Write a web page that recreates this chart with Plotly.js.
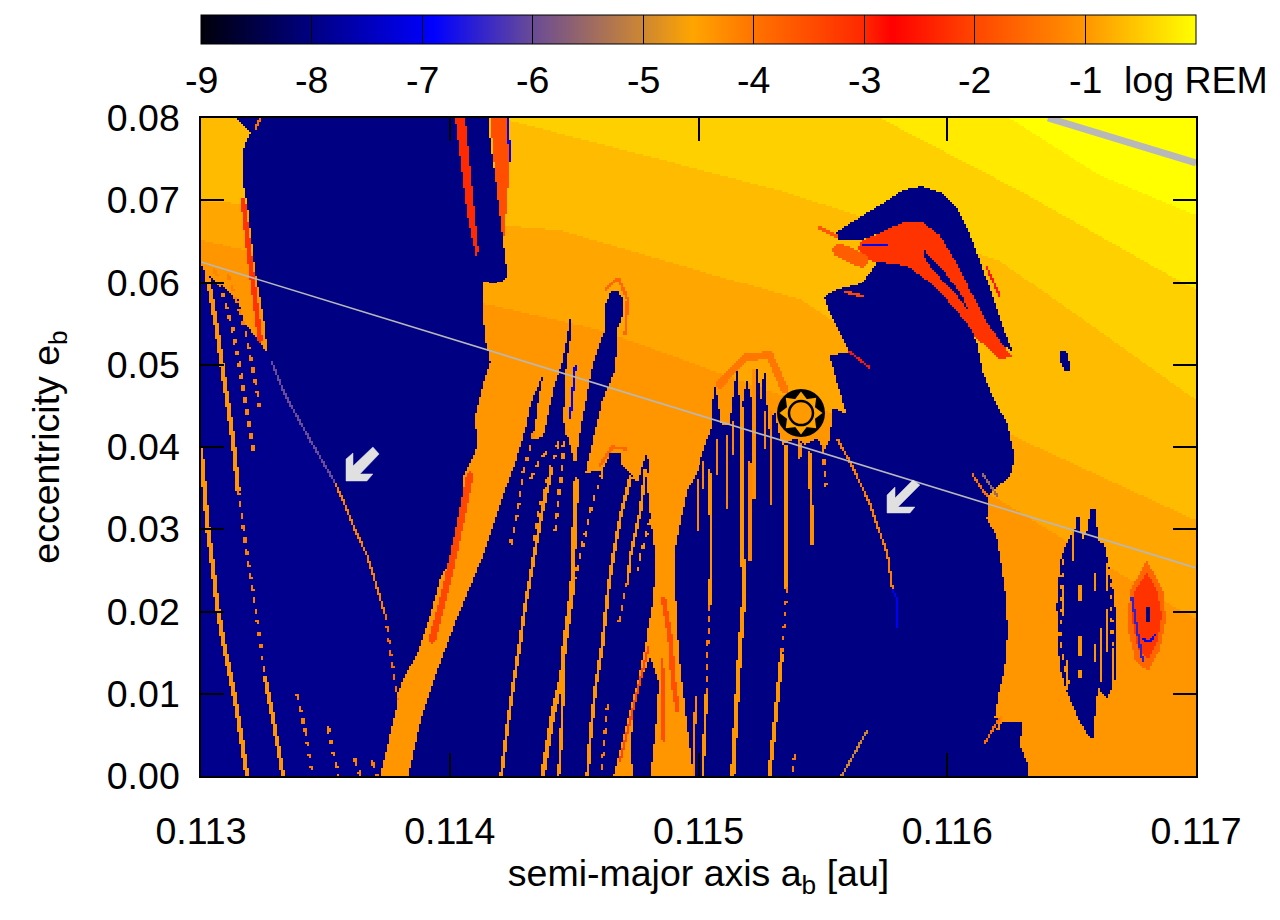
<!DOCTYPE html>
<html><head><meta charset="utf-8">
<script src="https://cdn.plot.ly/plotly-3.0.1.min.js"></script>
<style>html,body{margin:0;padding:0;background:#fff}#chart{width:1280px;height:920px}</style>
</head><body><div id="chart"></div>
<script>
// All outlines: a in 10^-3 au, e in 10^-2.
const colorbarLabels = ["-9","-8","-7","-6","-5","-4","-3","-2","-1","log REM"];
const colorbarValues = [-9,-8,-7,-6,-5,-4,-3,-2,-1,0];
const xTicks = [0.113,0.114,0.115,0.116,0.117];
const yTicks = [0,0.01,0.02,0.03,0.04,0.05,0.06,0.07,0.08];

const logRemBackground = -1;
const zoneLevels = [-0.85,-0.65,-0.45,-0.2,0];
const zones = [
 [[113,6.52],[114.6,5.42],[115.61,4.33],[116.21,3.36],[117,1.9],[117,8],[113,8]],
 [[113,7.0],[114.44,6.64],[115.41,5.79],[116.21,4.21],[117,3.11],[117,8],[113,8]],
 [[114.2,8],[115.33,7.12],[116.21,6.27],[117,4.57],[117,8]],
 [[115.73,8],[116.29,7.12],[117,5.91],[117,8]],
 [[116.25,8],[116.61,7.31],[117,6.82],[117,8]]
];

const leftRegular = [[113.137,8],[114.154,8],[114.162,7.7],[114.182,7.283],[114.202,6.881],[114.214,6.48],[114.23,6.116],[114.222,6.03],[114.182,5.994],[114.134,6.006],[114.13,5.666],[114.142,5.301],[114.162,5.021],[114.13,4.729],[114.101,4.365],[114.11,4.0],[114.053,3.635],[114.049,3.319],[114.001,2.626],[113.961,2.407],[113.913,1.872],[113.872,1.508],[113.808,1.143],[113.788,0.985],[113.768,0.657],[113.748,0.413],[113.72,0],[113,0],[113,6.213],[113.056,6.03],[113.149,5.787],[113.189,5.301],[113.229,5.179],[113.265,5.143],[113.257,5.459],[113.217,6.152],[113.189,6.881],[113.165,7.283],[113.169,7.611],[113.197,7.818]];
const leftBrighter = [[113,6.213],[113.257,5.179],[113.338,4.632],[113.539,3.562],[113.671,2.626],[113.76,1.532],[113.792,0.924],[113.72,0],[113,0]];
const middleRegular = [[113.832,0],[113.888,0.742],[113.953,1.313],[114.049,2.079],[114.13,2.663],[114.21,3.392],[114.262,3.805],[114.302,4.207],[114.323,4.511],[114.375,4.9],[114.355,4.571],[114.335,4.085],[114.375,4.122],[114.415,4.693],[114.451,5.021],[114.475,5.422],[114.483,5.581],[114.487,5.362],[114.467,5.021],[114.455,4.328],[114.503,3.781],[114.524,4.207],[114.556,4.729],[114.576,5.021],[114.622,5.422],[114.624,5.726],[114.644,5.872],[114.672,5.909],[114.696,5.787],[114.692,5.581],[114.672,5.422],[114.664,4.936],[114.612,4.571],[114.584,4.207],[114.552,3.805],[114.544,3.684],[114.612,3.72],[114.644,3.927],[114.684,3.927],[114.688,3.781],[114.725,3.684],[114.753,3.562],[114.785,3.903],[114.797,3.842],[114.793,3.514],[114.805,3.149],[114.825,2.687],[114.817,2.164],[114.793,1.751],[114.785,1.593],[114.753,1.143],[114.704,0.584],[114.656,0]];
const archRegular = [[114.805,1.435],[114.837,1.143],[114.833,0.778],[114.805,0],[114.737,0],[114.725,0.292],[114.737,0.778],[114.773,1.228]];
const rightRegular = [[114.978,0],[114.946,0.778],[114.918,1.508],[114.905,2.286],[114.905,2.784],[114.934,3.198],[114.954,3.477],[114.994,3.684],[115.018,3.927],[115.054,4.243],[115.058,4.535],[115.07,4.754],[115.094,4.267],[115.127,4.267],[115.155,4.973],[115.171,4.389],[115.195,4.815],[115.215,4.571],[115.227,4.511],[115.239,5.021],[115.251,4.511],[115.267,4.997],[115.283,4.207],[115.307,4.45],[115.336,4.024],[115.396,4.109],[115.428,4.024],[115.476,4.109],[115.508,3.964],[115.529,4.085],[115.541,4.474],[115.597,4.401],[115.561,4.754],[115.529,5.106],[115.609,5.155],[115.577,5.337],[115.529,5.629],[115.508,5.824],[115.557,5.909],[115.661,5.994],[115.718,6.249],[115.782,6.237],[115.85,6.188],[115.919,6.03],[115.999,5.787],[116.079,5.508],[116.099,5.422],[116.12,5.264],[116.144,4.9],[116.184,4.608],[116.24,4.292],[116.264,4.0],[116.272,3.878],[116.252,3.635],[116.2,3.514],[116.164,3.392],[116.164,3.27],[116.16,3.137],[116.2,2.906],[116.212,2.687],[116.232,2.286],[116.244,1.751],[116.232,1.313],[116.204,0.948],[116.192,0.705],[116.232,0.657],[116.304,0.644],[116.292,0.377],[116.325,0.134],[116.325,0]];
const upperArch = [[115.549,6.602],[115.649,6.796],[115.73,6.942],[115.822,7.125],[115.902,7.173],[115.983,7.088],[116.039,6.918],[116.091,6.602],[116.16,6.03],[116.224,5.459],[116.264,5.155],[116.224,5.24],[116.16,5.508],[116.091,5.909],[116.039,6.237],[115.971,6.577],[115.902,6.736],[115.822,6.736],[115.73,6.602],[115.649,6.517],[115.569,6.517]];
const archChaotic = [[115.657,6.517],[115.73,6.602],[115.822,6.736],[115.902,6.736],[115.971,6.577],[116.039,6.237],[116.091,5.909],[116.16,5.508],[116.224,5.24],[116.26,5.094],[116.212,5.058],[116.152,5.24],[116.12,5.301],[116.079,5.508],[115.999,5.787],[115.919,6.03],[115.85,6.188],[115.782,6.237],[115.718,6.249],[115.669,6.298],[115.641,6.419]];
const archInnerSliver = [[115.91,6.395],[115.991,6.128],[116.063,5.824],[116.083,5.666],[116.031,5.872],[115.951,6.128],[115.91,6.298]];
const smallIsland = [[116.457,5.155],[116.477,5.179],[116.489,5.058],[116.497,4.924],[116.473,4.912],[116.453,5.058]];
const resonantIsland = [[116.526,3.234],[116.542,2.869],[116.566,2.991],[116.574,3.258],[116.598,3.234],[116.606,2.869],[116.634,2.808],[116.666,2.286],[116.682,1.872],[116.682,1.471],[116.674,1.143],[116.642,0.948],[116.606,1.07],[116.586,0.462],[116.574,0.462],[116.534,0.657],[116.481,1.021],[116.453,1.313],[116.445,1.678],[116.441,2.079],[116.453,2.565],[116.461,2.687],[116.485,2.869],[116.513,2.991]];
const redIslandHalo = [[116.803,2.626],[116.867,2.261],[116.879,1.897],[116.855,1.532],[116.807,1.264],[116.755,1.41],[116.723,1.836],[116.735,2.261]];
const redIsland = [[116.803,2.48],[116.843,2.261],[116.863,1.957],[116.847,1.653],[116.807,1.41],[116.767,1.532],[116.743,1.897],[116.755,2.261]];
const redIslandCore = [[116.799,2.055],[116.815,2.055],[116.815,1.86],[116.799,1.86]];
const thinChaoticWedge = [[114.021,8],[114.061,8],[114.114,6.395],[114.106,6.31],[114.073,6.76]];
const redTopWedge = [[114.162,8],[114.182,7.283],[114.214,6.48],[114.23,7.003],[114.242,7.611],[114.234,8]];

const regular = -8, brighter = -7.9;
const regionList = [leftRegular,leftBrighter,middleRegular,archRegular,rightRegular,upperArch,archChaotic,archInnerSliver,smallIsland,resonantIsland,redIslandHalo,redIsland,redIslandCore,thinChaoticWedge,redTopWedge];
const regionLevels = [regular,brighter,regular,regular,regular,regular,-2.2,regular,regular,regular,-1.6,-2.2,regular,-2.3,-1.9];

// Resonance streaks: points, logREM, width in 10^-3 au, dotted flag
const streakLines = [
 [[113,3.964],[113.016,3.416],[113.028,2.991],[113.044,2.626],[113.068,2.018],[113.088,1.653],[113.109,1.35],[113.137,0.924],[113.157,0.559],[113.169,0.316],[113.185,0]],
 [[113.016,6.249],[113.064,5.422],[113.096,4.754],[113.129,4.085],[113.149,3.477]],
 [[113.149,3.477],[113.185,2.687],[113.217,2.079],[113.257,1.191]],
 [[113.257,1.191],[113.289,0.705],[113.33,0]],
 [[113.056,6.152],[113.129,5.422],[113.177,4.571],[113.197,4.207],[113.213,3.903]],
 [[113.109,6.091],[113.177,5.422],[113.209,4.936],[113.229,4.632],[113.237,4.45]],
 [[113.386,0.985],[113.418,0.559],[113.45,0]],
 [[113.511,0.584],[113.551,0]],
 [[113.619,0.195],[113.639,0]],
 [[113.687,0.17],[113.708,0]],
 [[113.285,5.021],[113.338,4.632],[113.438,4.085],[113.539,3.562]],
 [[113.539,3.562],[113.579,3.295],[113.619,2.991],[113.667,2.687],[113.708,2.286],[113.74,1.957]],
 [[113.74,1.957],[113.76,1.532],[113.78,1.167],[113.792,0.924]],
 [[113.169,7.003],[113.197,6.274],[113.237,5.301]],
 [[114.081,3.66],[114.021,2.784],[113.981,2.261],[113.929,1.653]],
 [[114.23,8],[114.242,7.49]],
 [[113.237,8],[113.217,7.85]],
 [[114.407,3.72],[114.363,3.112],[114.331,2.565],[114.302,2.079],[114.282,1.629],[114.254,1.106],[114.23,0.584],[114.206,0]],
 [[114.335,4.17],[114.294,3.684],[114.27,3.198],[114.242,2.808]],
 [[114.471,4.207],[114.455,4.0],[114.451,3.72],[114.435,3.392],[114.423,2.991]],
 [[114.435,4.049],[114.403,3.72],[114.375,3.441],[114.351,3.112],[114.331,2.784]],
 [[114.383,3.927],[114.355,3.805],[114.323,3.599]],
 [[114.503,4.973],[114.483,4.365]],
 [[114.508,3.599],[114.495,2.687],[114.491,2.286],[114.455,1.471],[114.451,1.228],[114.415,0.778],[114.371,0]],
 [[114.451,1.228],[114.455,1.07],[114.443,0.255],[114.435,0]],
 [[114.612,3.684],[114.564,3.234],[114.524,2.687],[114.491,2.286]],
 [[114.725,3.635],[114.684,3.149],[114.656,2.687],[114.636,2.286],[114.612,1.593],[114.584,1.07],[114.564,0.498],[114.552,0]],
 [[114.785,3.72],[114.765,3.234],[114.725,2.687],[114.713,2.359]],
 [[114.713,2.359],[114.692,2.079],[114.676,1.836]],
 [[114.805,3.112],[114.765,2.687],[114.753,2.48]],
 [[114.632,0.863],[114.612,0.17],[114.604,0]],
 [[114.857,2.164],[114.885,1.653],[114.897,1.143],[114.914,0.802]],
 [[114.853,1.41],[114.857,0.438]],
 [[114.684,0.195],[114.725,0.681],[114.765,1.167],[114.797,1.556]],
 [[114.986,0.96],[114.978,0]],
 [[115.046,3.72],[115.054,2.687],[115.046,2.079]],
 [[115.046,2.079],[115.038,1.471],[115.034,0.985]],
 [[115.034,0.985],[115.018,0]],
 [[115.179,4.45],[115.179,2.687],[115.187,2.286],[115.167,1.471],[115.155,0.863],[115.139,0]],
 [[115.356,4.0],[115.356,2.286]],
 [[115.356,2.286],[115.348,1.872],[115.336,1.471]],
 [[115.336,1.471],[115.32,0.985],[115.287,0]],
 [[114.998,3.599],[114.998,2.991]],
 [[115.018,3.805],[115.018,3.514]],
 [[115.078,4.085],[115.078,3.684]],
 [[115.115,4.122],[115.115,3.27]],
 [[115.139,4.292],[115.139,3.927]],
 [[115.207,3.805],[115.207,2.626]],
 [[115.227,4.936],[115.227,3.392]],
 [[115.267,4.413],[115.267,4.0]],
 [[115.295,4.413],[115.295,3.319]],
 [[115.408,4.049],[115.408,3.878]],
 [[115.448,3.927],[115.46,2.833]],
 [[115.5,4.0],[115.513,3.538]],
 [[115.561,4.085],[115.617,3.781],[115.689,3.319],[115.762,2.687],[115.782,2.261]],
 [[115.782,2.261],[115.798,2.164],[115.798,1.799]],
 [[115.677,0.535],[115.577,0]],
 [[115.388,0.255],[115.376,0]],
 [[115.609,5.155],[115.689,4.961]],
 [[115.589,5.884],[115.661,5.824]],
 [[115.661,6.456],[115.758,6.456]],
 [[116.16,6.188],[116.212,5.823]],
 [[116.103,3.66],[116.164,3.392]],
 [[116.14,3.684],[116.2,3.416]],
 [[116.152,0.401],[116.212,0.705]],
 [[116.22,0.705],[116.204,0.56]],
 [[116.465,2.286],[116.465,1.957]],
 [[116.481,1.386],[116.481,1.07]],
 [[116.505,2.991],[116.505,2.626]],
 [[116.534,2.322],[116.534,2.14]],
 [[116.534,1.678],[116.534,1.471]],
 [[116.534,1.264],[116.534,1.191]],
 [[116.594,2.444],[116.594,2.261]],
 [[116.594,1.593],[116.594,1.41]],
 [[116.618,1.775],[116.618,1.167]],
 [[116.642,2.565],[116.642,2.261]],
 [[116.642,2.018],[116.642,1.532]],
 [[116.666,1.532],[116.666,1.046]],
 [[116.743,2.164],[116.763,1.775],[116.787,1.386]],
 [[116.787,1.653],[116.815,1.629],[116.835,1.714]],
 [[114.628,5.909],[114.676,6.055],[114.713,5.787],[114.704,5.362]],
 [[115.086,4.754],[115.187,5.082],[115.287,5.118],[115.348,4.693]],
 [[114.604,3.78],[114.652,4.0],[114.704,3.976]],
 [[115.492,6.663],[115.553,6.57]],
 [[115.569,6.395],[115.657,6.274]],
 [[116.465,2.626],[116.453,1.653],[116.493,1.046]],
 [[116.654,2.505],[116.666,1.532]]
];
const streakLevels = [-1,-1,-1.3,-1,-1.2,-1.3,-1.3,-1.2,-1.3,-1.3,-6,-1.3,-1.5,-2.2,-2,-7,-1.5,-1,-1.2,-1.1,-1.1,-1.1,-7,-1,-1,-1.1,-1,-1,-1.3,-1,-1.3,-1.9,-1.9,-2,-1.2,-1,-1.3,-1,-1,-1,-1.4,-1,-1.2,-1.2,-1.2,-1.2,-1.2,-1.2,-1.1,-1.2,-1.2,-1.2,-1.1,-1.2,-1.3,-7,-5,-1.3,-2.5,-2,-7,-2.5,-1.5,-5.5,-1.5,-1.2,-1,-1,-1,-1,-1,-1,-1,-1,-1,-1,-1,-1,-6.5,-7,-1.6,-1.4,-1.6,-1.8,-1.7,-1,-1];
const streakWidths = [.018,.018,.012,.016,.014,.012,.012,.014,.012,.012,.008,.008,.008,.02,.028,.006,.006,.014,.012,.012,.012,.012,.006,.02,.012,.012,.014,.012,.01,.012,.008,.02,.012,.01,.008,.012,.008,.012,.018,.016,.01,.016,.012,.01,.012,.012,.012,.012,.014,.01,.012,.012,.014,.012,.008,.006,.006,.01,.006,.012,.006,.006,.008,.006,.008,.008,.012,.012,.012,.012,.012,.012,.012,.012,.012,.012,.012,.012,.01,.01,.012,.03,.012,.016,.056,.01,.01];
const streakDotted = [0,0,1,0,1,1,1,1,1,1,0,0,1,0,0,0,0,0,1,1,1,1,0,0,0,1,0,0,1,1,1,0,0,0,0,0,1,0,0,0,1,0,0,0,0,0,0,0,0,0,0,0,0,1,0,0,0,1,0,0,0,0,0,0,0,0,0,0,0,0,0,0,0,0,0,0,0,0,0,0,0,0,0,0,0,1,1];

const lineOneA = [0.113,0.117], lineOneE = [0.0625,0.0253];
const lineTwoA = [0.116405,0.117], lineTwoE = [0.08,0.07453];
const arrowOne = [[113.583,3.587],[113.667,3.587],[113.691,3.672],[113.639,3.672],[113.716,3.915],[113.691,4.0],[113.611,3.769],[113.611,3.927],[113.583,3.854]];
const arrowTwo = [[115.758,3.198],[115.85,3.198],[115.87,3.27],[115.802,3.27],[115.89,3.538],[115.862,3.599],[115.79,3.38],[115.79,3.514],[115.758,3.416]];
const sunA = 0.115412, sunE = 0.04413;

const zStops = [-9,-8,-6.9,-6,-5,-4.55,-4,-3,-2.75,-2,-1,0];
const zColors = ["#00000a","#000082","#0000ff","#694b96","#cd8732","#ffa500","#ff7300","#ff2800","#ff0000","#ff4600","#ff9600","#ffff00"];

// ---- rasterise the regions read above on to the map grid ----
const nx = 498, ny = 330, dA = 4/nx, dE = 8/ny, eToA = 0.00402/0.012158;
const cellA = [...Array(nx).keys()].map(i => 113 + (i + .5) * dA);
const cellE = [...Array(ny).keys()].map(j => (j + .5) * dE);
const z = cellE.map(() => new Array(nx).fill(logRemBackground));
function paintRegion(poly, level) {
  for (let j = 0; j < ny; j++) {
    const e = cellE[j], xs = [];
    for (let k = 0; k < poly.length; k++) {
      const p = poly[k], q = poly[(k + 1) % poly.length];
      if ((p[1] <= e) !== (q[1] <= e)) xs.push(p[0] + (e - p[1]) / (q[1] - p[1]) * (q[0] - p[0]));
    }
    xs.sort((u, v) => u - v);
    for (let m = 0; m + 1 < xs.length; m += 2) {
      const i0 = Math.max(0, Math.ceil((xs[m] - 113) / dA - .5));
      const i1 = Math.min(nx - 1, Math.floor((xs[m + 1] - 113) / dA - .5));
      for (let i = i0; i <= i1; i++) z[j][i] = level;
    }
  }
}
function paintStreak(line, level, width, dotted) {
  const half = Math.max(width / 2, .0046), period = .048;
  let run = 0;
  for (let k = 0; k + 1 < line.length; k++) {
    const ax = line[k][0], ay = line[k][1] * eToA, bx = line[k + 1][0], by = line[k + 1][1] * eToA;
    const dx = bx - ax, dy = by - ay, len = Math.hypot(dx, dy);
    const i0 = Math.max(0, Math.floor((Math.min(ax, bx) - half - 113) / dA) - 1), i1 = Math.min(nx - 1, Math.ceil((Math.max(ax, bx) + half - 113) / dA) + 1);
    const j0 = Math.max(0, Math.floor((Math.min(ay, by) - half) / eToA / dE) - 1), j1 = Math.min(ny - 1, Math.ceil((Math.max(ay, by) + half) / eToA / dE) + 1);
    for (let j = j0; j <= j1; j++) for (let i = i0; i <= i1; i++) {
      const px = cellA[i] - ax, py = cellE[j] * eToA - ay;
      const t = Math.max(0, Math.min(1, (px * dx + py * dy) / (len * len)));
      if (Math.hypot(px - t * dx, py - t * dy) > half) continue;
      if (dotted && ((run + t * len) % period) > period * .45) continue;
      z[j][i] = level;
    }
    run += len;
  }
}
zones.forEach((p, i) => paintRegion(p, zoneLevels[i]));
regionList.forEach((p, i) => paintRegion(p, regionLevels[i]));
streakLines.forEach((l, i) => paintStreak(l, streakLevels[i], streakWidths[i], streakDotted[i]));

const colorscale = zStops.map((v, i) => [(v + 9) / 9, zColors[i]]);
const fam = '"Liberation Sans", Arial, sans-serif';
const outline = poly => ({x: poly.concat([poly[0]]).map(p => p[0] / 1000), y: poly.concat([poly[0]]).map(p => p[1] / 100)});
const angles = [0,45,90,135,180,225,270,315];
const traces = [
 {type:'heatmap', x: cellA.map(a => a / 1000), y: cellE.map(e => e / 100), z, zmin:-9, zmax:0, zsmooth:false, colorscale, hoverinfo:'skip',
  colorbar:{orientation:'h', lenmode:'pixels', len:995, thicknessmode:'pixels', thickness:29, x:0, xanchor:'left', xref:'paper', y:1.0669, yanchor:'bottom', yref:'paper', xpad:0, ypad:0,
   tickmode:'array', tickvals:colorbarValues, ticktext:colorbarLabels, ticks:'inside', ticklen:29, tickwidth:1, tickcolor:'#000', showticklabels:false, outlinecolor:'#000', outlinewidth:1}},
 {type:'scatter', mode:'lines', x:lineOneA, y:lineOneE, line:{color:'#b8b8b8', width:1.6}, hoverinfo:'skip', showlegend:false},
 {type:'scatter', mode:'lines', x:lineTwoA, y:lineTwoE, line:{color:'#b8b8b8', width:7}, hoverinfo:'skip', showlegend:false},
 Object.assign(outline(arrowOne), {type:'scatter', mode:'lines', fill:'toself', fillcolor:'#e0e0e0', line:{color:'#e0e0e0', width:0.5}, hoverinfo:'skip', showlegend:false}),
 Object.assign(outline(arrowTwo), {type:'scatter', mode:'lines', fill:'toself', fillcolor:'#e0e0e0', line:{color:'#e0e0e0', width:0.5}, hoverinfo:'skip', showlegend:false}),
 {type:'scatter', mode:'markers', x:[sunA], y:[sunE], marker:{symbol:'circle', size:48, color:'#000'}, hoverinfo:'skip', showlegend:false},
 {type:'scatter', mode:'markers', x:angles.map(t => sunA + 0.0000603 * Math.sin(t * Math.PI / 180)), y:angles.map(t => sunE + 0.001824 * Math.cos(t * Math.PI / 180)),
  marker:{symbol:'triangle-up', size:13, color:'#ffa500', angle:angles}, hoverinfo:'skip', showlegend:false},
 {type:'scatter', mode:'markers', x:[sunA], y:[sunE], marker:{symbol:'circle', size:24, color:'#ff9a00', line:{color:'#000', width:2.5}}, hoverinfo:'skip', showlegend:false}
];
const layout = {
 width:1280, height:920, margin:{l:201, r:84, t:118, b:144, autoexpand:false}, paper_bgcolor:'#fff', plot_bgcolor:'#fff', showlegend:false,
 font:{family:fam, size:37.5, color:'#000'},
 xaxis:{range:[0.113,0.117], automargin:true, tickmode:'array', tickvals:xTicks, ticktext:xTicks.map(v => v.toFixed(3)), ticks:'inside', ticklen:23, tickwidth:1.5, tickcolor:'#000', mirror:'ticks', showline:true, linecolor:'#000', linewidth:1.5, showgrid:false, zeroline:false, ticklabelstandoff:21,
  title:{text:'semi-major axis a<sub>b</sub> [au]', font:{family:fam, size:37.5}, standoff:14}},
 yaxis:{range:[0,0.08], tickmode:'array', tickvals:yTicks, ticktext:yTicks.map(v => v.toFixed(2)), ticks:'inside', ticklen:23, tickwidth:1.5, tickcolor:'#000', mirror:'ticks', showline:true, linecolor:'#000', linewidth:1.5, showgrid:false, zeroline:false, ticklabelstandoff:12,
  title:{text:'eccentricity e<sub>b</sub>', font:{family:fam, size:37.5}, standoff:6}},
 annotations: colorbarLabels.map((t, i) => ({xref:'paper', yref:'paper', x:i / 9, y:1.058, xanchor:'center', yanchor:'middle', text:t, showarrow:false, font:{family:fam, size:37.5, color:'#000'}}))
};
Plotly.newPlot('chart', traces, layout, {displayModeBar:false, responsive:false});
</script></body></html>
